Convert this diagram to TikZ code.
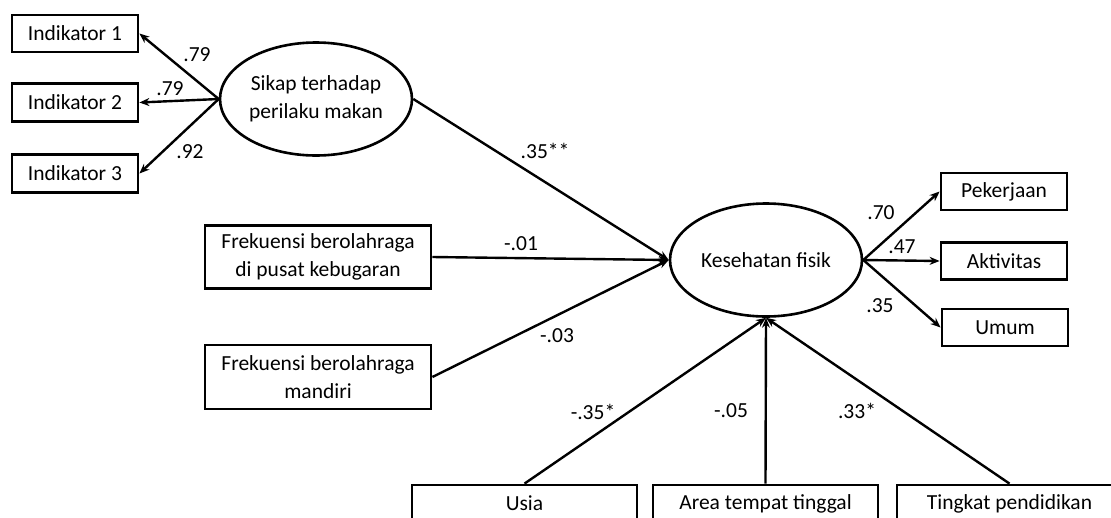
\documentclass[tikz,border=0pt]{standalone}
\usepackage{fontspec}
\setmainfont{Carlito}
\usetikzlibrary{shapes.geometric,arrows.meta}
\begin{document}
\begin{tikzpicture}[x=1pt,y=-1pt,
  every node/.style={font=\fontsize{21.5}{28}\selectfont, text=black},
  box/.style={draw=black, line width=2.8pt, rectangle, inner sep=0pt, align=center},
  lat/.style={draw=black, line width=2.6pt, ellipse, inner sep=0pt, minimum width=192pt, minimum height=113pt, align=center},
  path/.style={line width=2.4pt, -{Stealth[length=10pt,width=8pt]}},
  lbl/.style={inner sep=0pt}]
\useasboundingbox (0,0) rectangle (1111,517);
\clip (0,0) rectangle (1111,517);
\fill[white] (0,0) rectangle (1111,517);

% latent variables
\node[lat] (sikap) at (316,99) {Sikap terhadap\\perilaku makan};
\node[lat] (kes) at (766,260) {Kesehatan fisik};

% indicators left
\node[box, minimum width=126pt, minimum height=37pt] (i1) at (75,33.5) {Indikator 1};
\node[box, minimum width=126pt, minimum height=38pt] (i2) at (75,102.5) {Indikator 2};
\node[box, minimum width=126pt, minimum height=38pt] (i3) at (75,173.5) {Indikator 3};

% predictors
\node[box, minimum width=226pt, minimum height=63pt] (gym) at (318,257) {Frekuensi berolahraga\\di pusat kebugaran};
\node[box, minimum width=226pt, minimum height=64pt] (mandiri) at (318,377) {Frekuensi berolahraga\\mandiri};

% right indicators
\node[box, minimum width=126pt, minimum height=37pt] (pek) at (1004,191.5) {Pekerjaan};
\node[box, minimum width=126pt, minimum height=37pt] (akt) at (1004,261) {Aktivitas};
\node[box, minimum width=126pt, minimum height=37pt] (umum) at (1005,327.5) {Umum};

% bottom covariates
\node[box, minimum width=225pt, minimum height=37pt] (usia) at (524.5,503.5) {Usia};
\node[box, minimum width=225pt, minimum height=37pt] (area) at (765.5,503.5) {Area tempat tinggal};
\node[box, minimum width=225pt, minimum height=37pt] (ting) at (1009.5,503.5) {Tingkat pendidikan};

% connectors
\draw[path] (sikap.west) -- (i1.east);
\draw[path] (sikap.west) -- (i2.east);
\draw[path] (sikap.west) -- (i3.east);
\draw[path] (sikap.east) -- (kes.west);
\draw[path] (gym.east) -- (kes.west);
\draw[path] (mandiri.east) -- (kes.west);
\draw[path] (kes.east) -- (pek.west);
\draw[path] (kes.east) -- (akt.west);
\draw[path] (kes.east) -- (umum.west);
\draw[path] (usia.north) -- (kes.south);
\draw[path] (area.north) -- (kes.south);
\draw[path] (ting.north) -- (kes.south);

% labels
\node[lbl] (l1) at (197,55) {.79};
\node[lbl] (l2) at (170,89) {.79};
\node[lbl] (l3) at (190,152) {.92};
\node[lbl] (l4) at (545,151) {.35**};
\node[lbl] (l5) at (521,244) {-.01};
\node[lbl] (l6) at (557,336) {-.03};
\node[lbl] (l7) at (593,412) {-.35*};
\node[lbl] (l8) at (731,411) {-.05};
\node[lbl] (l9) at (857,411) {.33*};
\node[lbl] (l10) at (881,213) {.70};
\node[lbl] (l11) at (902,247) {.47};
\node[lbl] (l12) at (880,306) {.35};
\end{tikzpicture}
\end{document}
